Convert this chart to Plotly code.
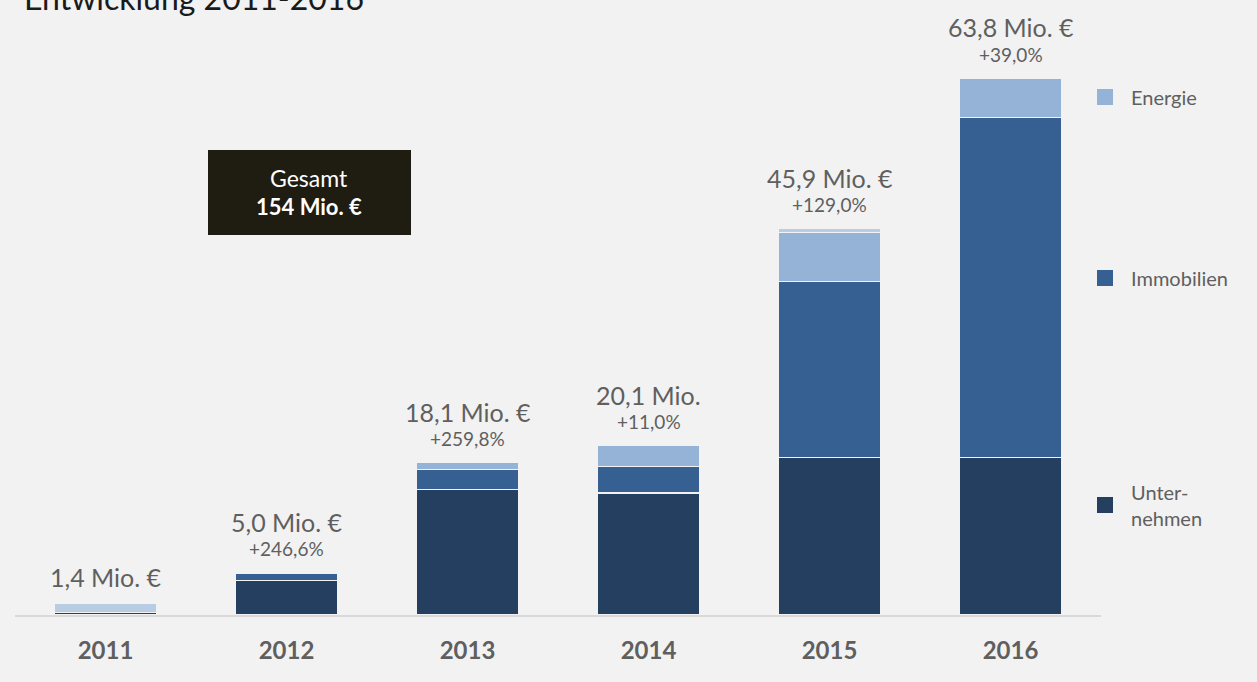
import plotly.graph_objects as go

categories = ['2011', '2012', '2013', '2014', '2015', '2016']
unternehmen = [0.3, 4.1, 14.9, 14.5, 18.7, 18.7]
immobilien = [0.0, 0.9, 2.4, 3.1, 20.9, 40.4]
energie = [0.0, 0.0, 0.8, 2.5, 5.8, 4.7]
sonstige = [1.1, 0.0, 0.0, 0.0, 0.5, 0.0]
totals = [1.4, 5.0, 18.1, 20.1, 45.9, 63.8]
total_labels = ['1,4 Mio. €', '5,0 Mio. €', '18,1 Mio. €', '20,1 Mio.', '45,9 Mio. €', '63,8 Mio. €']
growth_labels = ['', '+246,6%', '+259,8%', '+11,0%', '+129,0%', '+39,0%']
legend_names = ['Energie', 'Immobilien', 'Unter-<br>nehmen']

W, H = 1257, 682
L, R, T, B = 15, 156, 0, 67
PW, PH = W - L - R, H - T - B

def px(x):
    return (x - L) / PW

def py(y):
    return (H - B - y) / PH

FONT = 'Lato'
GRAY = '#5f5f5f'
C_U, C_I, C_E, C_S = '#243f60', '#366092', '#95b3d7', '#b8cce4'

fig = go.Figure()
for name, vals, col in [('Unternehmen', unternehmen, C_U), ('Immobilien', immobilien, C_I),
                        ('Energie', energie, C_E), ('Sonstige', sonstige, C_S)]:
    fig.add_trace(go.Bar(x=categories, y=vals, name=name,
                         marker=dict(color=col, line=dict(color='#f2f2f2', width=1.2)),
                         showlegend=False, hoverinfo='x+y+name'))

ann = []
for i, (t, lab, g) in enumerate(zip(totals, total_labels, growth_labels)):
    ann.append(dict(x=i, y=t, xref='x', yref='y', text=lab, showarrow=False, xanchor='center', yanchor='middle',
                    yshift=51 if g else 26, font=dict(family=FONT, size=25, color=GRAY)))
    if g:
        ann.append(dict(x=i, y=t, xref='x', yref='y', text=g, showarrow=False, xanchor='center', yanchor='middle',
                        yshift=24, font=dict(family=FONT, size=19, color=GRAY)))

# Title (partially clipped at the top)
ann.append(dict(x=px(22), y=py(19), xref='paper', yref='paper', xanchor='left', yanchor='bottom',
                text='Entwicklung 2011-2016', showarrow=False, font=dict(family=FONT, size=32, color='#1a1a1a')))

# Gesamt box
shapes = [dict(type='rect', xref='paper', yref='paper', x0=px(208), x1=px(411), y0=py(235), y1=py(150),
               fillcolor='#1f1c12', line=dict(width=0), layer='above')]
ann.append(dict(x=px(309), y=py(178), xref='paper', yref='paper', xanchor='center', yanchor='middle',
                text='Gesamt', showarrow=False, font=dict(family=FONT, size=23, color='white')))
ann.append(dict(x=px(309), y=py(207), xref='paper', yref='paper', xanchor='center', yanchor='middle',
                text='<b>154 Mio. €</b>', showarrow=False, font=dict(family=FONT, size=22, color='white')))

# Legend
for name, col, yc in zip(legend_names, [C_E, C_I, C_U], [97, 278, 505]):
    shapes.append(dict(type='rect', xref='paper', yref='paper', x0=px(1097), x1=px(1113), y0=py(yc + 8), y1=py(yc - 8),
                       fillcolor=col, line=dict(width=0)))
    ann.append(dict(x=px(1129), y=py(yc), xref='paper', yref='paper', xanchor='left', yanchor='middle', align='left',
                    text=name, showarrow=False, font=dict(family=FONT, size=20, color=GRAY)))

fig.update_layout(
    barmode='stack', bargap=0.436, width=W, height=H,
    margin=dict(l=L, r=R, t=T, b=B),
    paper_bgcolor='#f2f2f2', plot_bgcolor='#f2f2f2',
    xaxis=dict(type='category', range=[-0.5, 5.5], showgrid=False, showline=True, linecolor='#d9d9d9', linewidth=2,
               ticks='', ticklabelstandoff=13, tickfont=dict(family=FONT, size=24, color=GRAY),
               tickprefix='<b>', ticksuffix='</b>'),
    yaxis=dict(range=[0, 73.07], visible=False, showgrid=False, zeroline=False),
    annotations=ann, shapes=shapes, showlegend=False,
)
fig.write_html('out.html', config={'displayModeBar': False},
               post_script="document.body.style.margin='0';document.body.style.overflow='hidden';")
